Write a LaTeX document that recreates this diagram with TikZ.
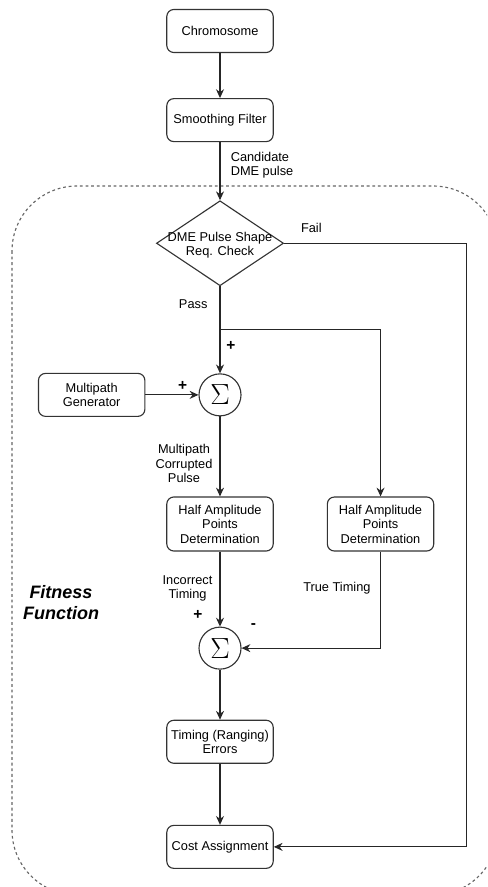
\documentclass[tikz,border=0pt]{standalone}
\usepackage{fontspec}
\setmainfont{Liberation Sans}
\usetikzlibrary{positioning,arrows.meta,shapes.geometric}
\newcommand{\boxfont}{\fontsize{9.1}{10.3}\selectfont}
\tikzset{
  box/.style  = {rectangle, draw=black!80, rounded corners=5pt, line width=0.8pt,
                 minimum width=2.66cm, minimum height=1.075cm, align=center,
                 font=\boxfont, inner sep=1pt},
  tall/.style = {box, minimum height=1.35cm},
  chk/.style  = {diamond, draw=black!80, line width=0.8pt, inner sep=0pt,
                 minimum width=3.175cm, minimum height=2.125cm},
  sumc/.style = {circle, draw=black!80, line width=0.8pt, minimum size=1.05cm,
                 inner sep=0pt, font=\fontsize{22}{22}\selectfont},
  arr/.style  = {-{Stealth[length=2.2mm,width=2mm]}, line width=0.8pt, draw=black!85},
  lab/.style  = {font=\boxfont, align=center, inner sep=1pt},
  sgn/.style  = {font=\fontsize{11}{11}\selectfont\bfseries, inner sep=0pt},
  dashbox/.style = {draw=black!60, line width=0.8pt, dash pattern=on 2pt off 2pt,
                    rounded corners=1.625cm}
}

\begin{document}
\begin{tikzpicture}
  \useasboundingbox (0,0) rectangle (12.175,-22.175);
  \begin{scope}
    \clip (0,0) rectangle (12.175,-22.175);
    \draw[dashbox] (0.3,-4.65) rectangle (12.45,-22.375);
  \end{scope}

  \node[box] (chrom) at (5.5,-0.775) {Chromosome};
  \node[box,below=1.125cm of chrom] (smooth) {Smoothing Filter};
  \node[chk,below=1.45cm of smooth,
        label={[lab,yshift=-0.05cm]center:DME Pulse Shape\\Req. Check}] (check) {};
  \node[sumc,below=2.175cm of check] (sum1) {$\Sigma$};
  \node[box,left=1.325cm of sum1] (gen) {Multipath\\Generator};
  \node[tall,below=2cm of sum1] (hapl) {Half Amplitude\\Points\\Determination};
  \node[tall,right=1.325cm of hapl] (hapr) {Half Amplitude\\Points\\Determination};
  \node[sumc,below=1.875cm of hapl] (sum2) {$\Sigma$};
  \node[box,below=1.25cm of sum2] (timing) {Timing (Ranging)\\Errors};
  \node[box,below=1.525cm of timing] (cost) {Cost Assignment};
  \node[align=center,font=\fontsize{12.8}{15}\selectfont\bfseries\itshape]
       (fitness) at (1.525,-15.075) {Fitness\\Function};

  \coordinate[below=1.075cm of check.south] (split);
  \coordinate[right=4.55cm of check.east] (failx);

  \draw[arr](chrom)--(smooth);
  \draw[arr](smooth)--node[lab,anchor=west,align=left,pos=0.4,xshift=0.22cm]{Candidate\\DME pulse}(check);
  \draw[arr](check)--node[lab,anchor=east,pos=0.2,xshift=-0.265cm]{Pass}
                     node[sgn,pos=0.69,xshift=0.275cm]{+}(sum1);
  \draw[arr](split)-|(hapr);
  \draw[arr](gen)--node[sgn,pos=0.7,yshift=0.225cm]{+}(sum1);
  \draw[arr](sum1)--node[lab,anchor=east,pos=0.59,xshift=-0.14cm]{Multipath\\Corrupted\\Pulse}(hapl);
  \draw[arr](hapl)--node[lab,anchor=east,pos=0.49,xshift=-0.14cm]{Incorrect\\Timing}
                    node[sgn,pos=0.85,xshift=-0.55cm]{+}(sum2);
  \draw[arr](hapr)|-node[lab,anchor=east,pos=0.19,xshift=-0.2cm]{True Timing}
                    node[sgn,pos=0.957,yshift=0.55cm]{-}(sum2);
  \draw[arr](sum2)--(timing);
  \draw[arr](timing)--(cost);
  \draw[arr](check.east)--node[lab,pos=0.15,yshift=0.375cm]{Fail}(failx)|-(cost.east);
\end{tikzpicture}
\end{document}
